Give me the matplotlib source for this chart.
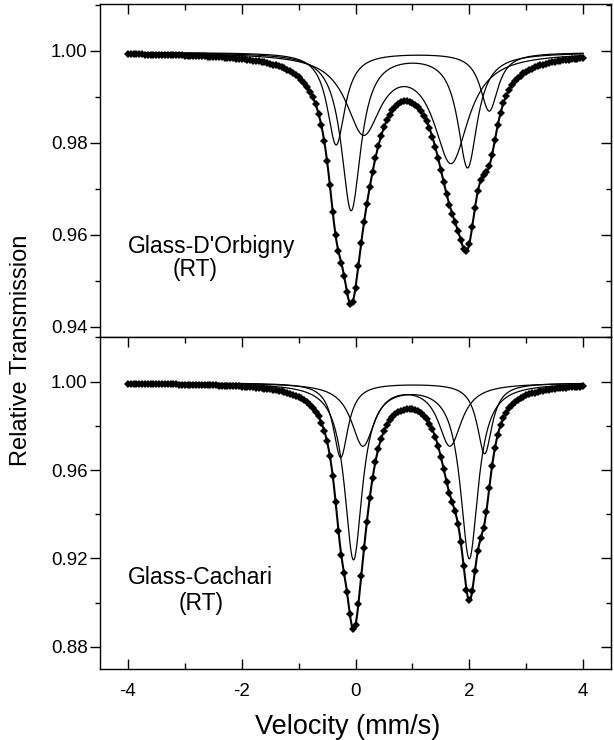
import numpy as np
import matplotlib.pyplot as plt
from matplotlib.ticker import MultipleLocator

plt.rcParams['font.family'] = ['Liberation Sans', 'DejaVu Sans']
plt.rcParams['axes.unicode_minus'] = False

# doublet fit parameters (line positions, line depths, half widths)
top_base = 0.9997
top_centers = [(-0.076, 1.97), (0.14, 1.68), (-0.34, 2.35)]
top_depths = [(0.0342, 0.0248), (0.0168, 0.0233), (0.0201, 0.0127)]
top_widths = [0.21, 0.37, 0.19]

bot_base = 0.9995
bot_centers = [(-0.035, 2.0), (0.13, 1.66), (-0.26, 2.27)]
bot_depths = [(0.0795, 0.0790), (0.028, 0.028), (0.0337, 0.032)]
bot_widths = [0.19, 0.25, 0.16]

channels = np.linspace(-4.0, 4.0, 161)
vfine = np.linspace(-4.0, 4.0, 801)


def doublet(v, centers, depths, width):
    out = np.zeros_like(v)
    for c, d in zip(centers, depths):
        out += d / (1 + ((v - c) / width) ** 2)
    return out


def draw_panel(ax, base, centers, depths, widths):
    total_fine = np.full_like(vfine, base)
    total_pts = np.full_like(channels, base)
    for c, d, w in zip(centers, depths, widths):
        comp = doublet(vfine, c, d, w)
        ax.plot(vfine, base - comp, color='black', lw=0.9)
        total_fine -= comp
        total_pts -= doublet(channels, c, d, w)
    ax.plot(channels, total_pts, 'D', color='black', ms=4.4, mew=0)
    ax.plot(vfine, total_fine, color='black', lw=1.5)


fig = plt.figure(figsize=(6.14, 7.40), dpi=100)
ax1 = fig.add_axes([100 / 614, 1 - 337 / 740, 511 / 614, 333 / 740])
ax2 = fig.add_axes([100 / 614, 1 - 669 / 740, 511 / 614, 332 / 740])

draw_panel(ax1, top_base, top_centers, top_depths, top_widths)
draw_panel(ax2, bot_base, bot_centers, bot_depths, bot_widths)

ax1.set_ylim(0.9378, 1.0102)
ax2.set_ylim(0.870, 1.0202)
ax1.yaxis.set_major_locator(MultipleLocator(0.02))
ax1.yaxis.set_minor_locator(MultipleLocator(0.01))
ax2.yaxis.set_major_locator(MultipleLocator(0.04))
ax2.yaxis.set_minor_locator(MultipleLocator(0.02))
ax1.yaxis.set_major_formatter(lambda y, p: f"{y:.2f}")
ax2.yaxis.set_major_formatter(lambda y, p: f"{y:.2f}")

for ax in (ax1, ax2):
    ax.set_xlim(-4.49, 4.49)
    ax.xaxis.set_major_locator(MultipleLocator(2))
    ax.xaxis.set_minor_locator(MultipleLocator(1))
    ax.tick_params(axis='x', which='both', direction='in', top=True, bottom=True,
                   labelsize=13.5, pad=10, width=1)
    ax.tick_params(axis='x', which='major', length=7.5)
    ax.tick_params(axis='x', which='minor', length=4)
    ax.tick_params(axis='y', which='both', direction='out', labelsize=13.5, pad=1.5, width=1)
    ax.tick_params(axis='y', which='major', length=7.5)
    ax.tick_params(axis='y', which='minor', length=3.6)
    for s in ax.spines.values():
        s.set_linewidth(1)
    sec = ax.secondary_yaxis('right')
    sec.yaxis.set_major_locator(ax.yaxis.get_major_locator())
    sec.yaxis.set_minor_locator(ax.yaxis.get_minor_locator())
    sec.tick_params(axis='y', which='both', direction='in', labelright=False, width=1)
    sec.tick_params(axis='y', which='major', length=7.5)
    sec.tick_params(axis='y', which='minor', length=3.6)

ax1.tick_params(axis='x', which='both', bottom=False, labelbottom=False)

ax1.text(-4.0, 0.9574, "Glass-D'Orbigny", fontsize=16.5, ha='left', va='center')
ax1.text(-2.81, 0.9524, "(RT)", fontsize=16.5, ha='center', va='center')
ax2.text(-4.0, 0.9113, "Glass-Cachari", fontsize=16.5, ha='left', va='center')
ax2.text(-2.72, 0.8995, "(RT)", fontsize=16.5, ha='center', va='center')

fig.text(21 / 614, 1 - 350 / 740, "Relative Transmission", rotation=90,
         fontsize=17, ha='center', va='center')
fig.text(348 / 614, 13 / 740, "Velocity (mm/s)", fontsize=19.5, ha='center', va='center')

fig.savefig("out.png", dpi=100)
